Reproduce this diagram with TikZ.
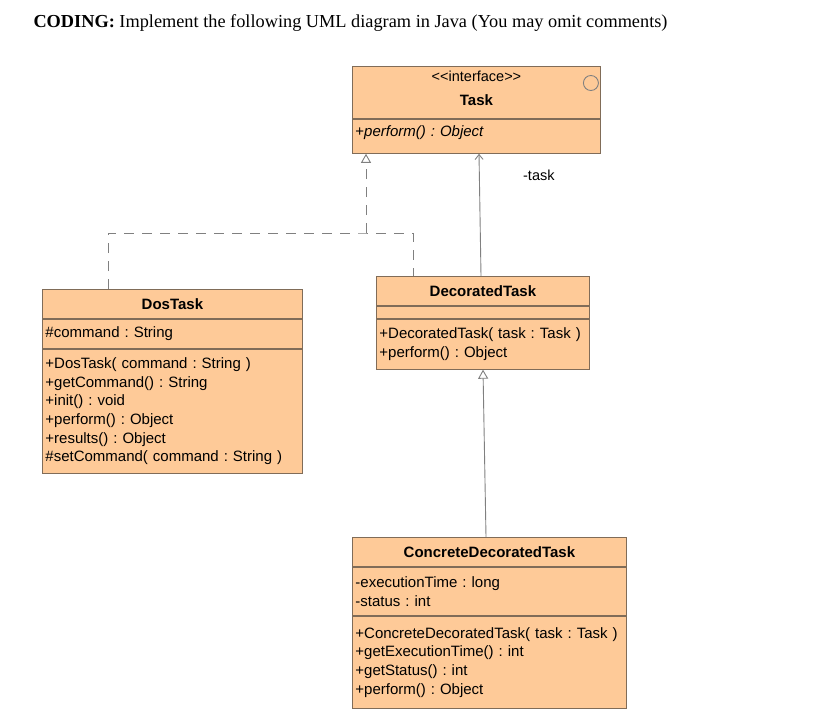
\documentclass[tikz,border=0pt]{standalone}
\usepackage{fontspec}
\setmainfont{Liberation Serif}
\newfontfamily\umlsans{Liberation Sans}
\usetikzlibrary{positioning,arrows.meta}
\definecolor{umlfill}{RGB}{254,202,152}
\definecolor{umlline}{RGB}{128,108,88}
\definecolor{linkgray}{RGB}{128,128,128}
\frenchspacing
\begin{document}
\begin{tikzpicture}[x=1pt,y=-1pt,node distance=0pt,
  cls/.style={draw=umlline,fill=umlfill,line width=0.9pt,inner xsep=3pt,inner ysep=0pt,text width=#1,font=\umlsans\fontsize{15}{18.6}\selectfont},
  cname/.style={cls=#1,align=center,font=\umlsans\bfseries\fontsize{15}{18.6}\selectfont},
  cpart/.style={cls=#1,align=left},
  link/.style={draw=linkgray,line width=0.9pt},
  realize/.style={link,dash pattern=on 10pt off 8pt},
  inherit/.style={-{Triangle[open,length=9pt,width=10pt]}}]
\useasboundingbox (0,0) rectangle (834,715);
\node[anchor=base west,font=\fontsize{18.3}{22}\selectfont] (title) at (30,27) {\textbf{CODING:} Implement the following UML diagram in Java (You may omit comments)};

\node[cname=242pt,minimum height=52pt,text depth=33pt,anchor=north west] (taskN) at (352,66) {{\mdseries\fontsize{14.5}{14}\selectfont <{}<interface>{}>}\\[5.5pt] Task};
\node[cpart=242pt,minimum height=34pt,text depth=11pt,below=of taskN] (taskM) {+\textit{perform() : Object}};
\node[circle,draw=linkgray,line width=0.9pt,minimum size=15pt,inner sep=0pt] (ico) at ([xshift=-10pt,yshift=-17pt]taskN.north east) {};

\node[cname=254pt,minimum height=29pt,anchor=north west] (dosN) at (42,289) {DosTask};
\node[cpart=254pt,minimum height=29pt,below=of dosN] (dosA) {\#command : String};
\node[cpart=254pt,minimum height=124pt,below=of dosA] (dosM) {+DosTask( command : String )\\+getCommand() : String\\+init() : void\\+perform() : Object\\+results() : Object\\\#setCommand( command : String )};

\node[cname=207pt,minimum height=29pt,anchor=north west] (decoN) at (376,276) {DecoratedTask};
\node[cpart=207pt,minimum height=12pt,below=of decoN] (decoA) {};
\node[cpart=207pt,minimum height=50pt,below=of decoA] (decoM) {+DecoratedTask( task : Task )\\+perform() : Object};

\node[cname=268pt,minimum height=29pt,anchor=north west] (concN) at (352,537) {ConcreteDecoratedTask};
\node[cpart=268pt,minimum height=48pt,below=of concN] (concA) {-executionTime : long\\-status : int};
\node[cpart=268pt,minimum height=92pt,below=of concA] (concM) {+ConcreteDecoratedTask( task : Task )\\+getExecutionTime() : int\\+getStatus() : int\\+perform() : Object};

\coordinate (fork) at (366,233);
\draw[realize] ([xshift=66pt]dosN.north west) |- (fork) -| ([xshift=37pt]decoN.north west);
\draw[realize,inherit] (fork) -- (fork |- taskM.south);
\draw[link,-{Straight Barb[length=5pt,width=8pt]}] ([xshift=105pt]decoN.north west) -- ([xshift=127pt]taskM.south west) node[pos=0.82,anchor=west,xshift=40pt,font=\umlsans\fontsize{14.5}{16}\selectfont] (lblTask) {-task};
\draw[link,inherit] ([xshift=134pt]concN.north west) -- ([xshift=107pt]decoM.south west);
\end{tikzpicture}
\end{document}
